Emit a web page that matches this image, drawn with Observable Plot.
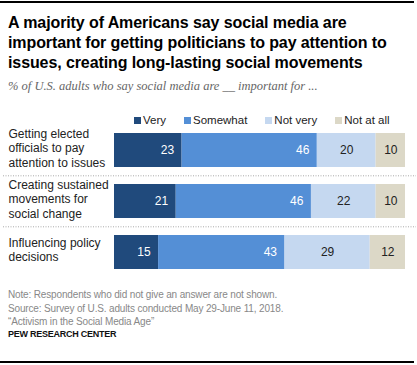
<!DOCTYPE html>
<html><head><meta charset="utf-8">
<script src="https://cdn.jsdelivr.net/npm/d3@7"></script>
<script src="https://cdn.jsdelivr.net/npm/@observablehq/plot@0.6"></script>
<style>
body{margin:0;background:#fff;font-family:"Liberation Sans",Arial,sans-serif;}
#wrap{position:relative;width:417px;height:365px;overflow:hidden;background:#fff}
.hr{position:absolute;left:0;width:414px;height:2px;background:#000}
#title{position:absolute;left:8px;top:13px;font-size:16px;line-height:20px;font-weight:bold;color:#000;white-space:nowrap;letter-spacing:-0.1px}
#sub{position:absolute;left:8px;top:79px;font-family:"Liberation Serif","DejaVu Serif",serif;font-style:italic;font-size:12.5px;line-height:14px;color:#666;white-space:nowrap}
#legend{position:absolute;left:134px;top:113px;display:flex;font-size:11.5px;line-height:14px;color:#222;white-space:nowrap}
#legend .it{display:flex;align-items:center;margin-right:18px;flex-shrink:0}
#legend .sw{width:7px;height:7px;margin-right:2px}
#chart{position:absolute;left:0;top:124px}
#foot{position:absolute;left:8px;top:288px;font-size:10px;line-height:13.5px;color:#888;letter-spacing:-0.15px;white-space:nowrap}
#pew{position:absolute;left:8px;top:327px;font-size:9px;line-height:14px;font-weight:bold;color:#111;letter-spacing:-0.25px}
</style></head><body>
<div id="wrap">
<div class="hr" style="top:1px"></div>
<div id="title">A majority of Americans say social media are<br>important for getting politicians to pay attention to<br>issues, creating long-lasting social movements</div>
<div id="sub">% of U.S. adults who say social media are __ important for ...</div>
<div id="legend"></div>
<div id="chart"></div>
<div id="foot">Note: Respondents who did not give an answer are not shown.<br>Source: Survey of U.S. adults conducted May 29-June 11, 2018.<br>“Activism in the Social Media Age”</div>
<div id="pew">PEW RESEARCH CENTER</div>
<div class="hr" style="top:361px"></div>
</div>
<script>
const categories = ["Getting elected\nofficials to pay\nattention to issues", "Creating sustained\nmovements for\nsocial change", "Influencing policy\ndecisions"];
const responses = ["Very", "Somewhat", "Not very", "Not at all"];
const colors = ["#204a7c", "#548fd6", "#c5d8f0", "#dcd8c7"];
const veryVals = [23, 21, 15];
const somewhatVals = [46, 46, 43];
const notVeryVals = [20, 22, 29];
const notAtAllVals = [10, 10, 12];

const series = [veryVals, somewhatVals, notVeryVals, notAtAllVals];
const data = [];
categories.forEach((c, i) => responses.forEach((r, j) => data.push({cat: c, resp: r, value: series[j][i]})));

// legend
const leg = document.getElementById("legend");
responses.forEach((r, j) => {
  const it = document.createElement("div"); it.className = "it";
  const sw = document.createElement("div"); sw.className = "sw"; sw.style.background = colors[j];
  const t = document.createElement("span"); t.textContent = r;
  it.appendChild(sw); it.appendChild(t); leg.appendChild(it);
});

const order = {order: responses};
const plot = Plot.plot({
  width: 417,
  height: 154,
  marginLeft: 114,
  marginRight: 12,
  marginTop: 0,
  marginBottom: 0,
  style: {fontFamily: "Liberation Sans, Arial, sans-serif", fontSize: "12px", overflow: "visible"},
  x: {domain: [0, 99], axis: null},
  y: {domain: categories, axis: null, paddingInner: 0.33, paddingOuter: 0.165},
  color: {domain: responses, range: colors},
  marks: [
    Plot.ruleY(categories.slice(1), {y: d => d, dy: -25.7, stroke: "#aaa", strokeDasharray: "1,1.5", insetLeft: -111, insetRight: -11}),
    Plot.barX(data, Plot.stackX({x: "value", y: "cat", z: "resp", fill: "resp", ...order})),
    Plot.text(data, Plot.stackX2({x: "value", y: "cat", z: "resp", ...order,
      text: d => (d.resp === "Very" || d.resp === "Somewhat") ? String(d.value) : null,
      textAnchor: "end", dx: -8, fill: "#fff", fontSize: 12})),
    Plot.text(data, Plot.stackX({x: "value", y: "cat", z: "resp", ...order,
      text: d => (d.resp === "Not very" || d.resp === "Not at all") ? String(d.value) : null,
      textAnchor: "middle", fill: "#222", fontSize: 12})),
    Plot.text(categories, {y: d => d, text: d => d, frameAnchor: "left", textAnchor: "start", dx: -106, dy: -3, lineHeight: 1.2, fill: "#222", fontSize: 12})
  ]
});
document.getElementById("chart").appendChild(plot);
</script>
</body></html>
